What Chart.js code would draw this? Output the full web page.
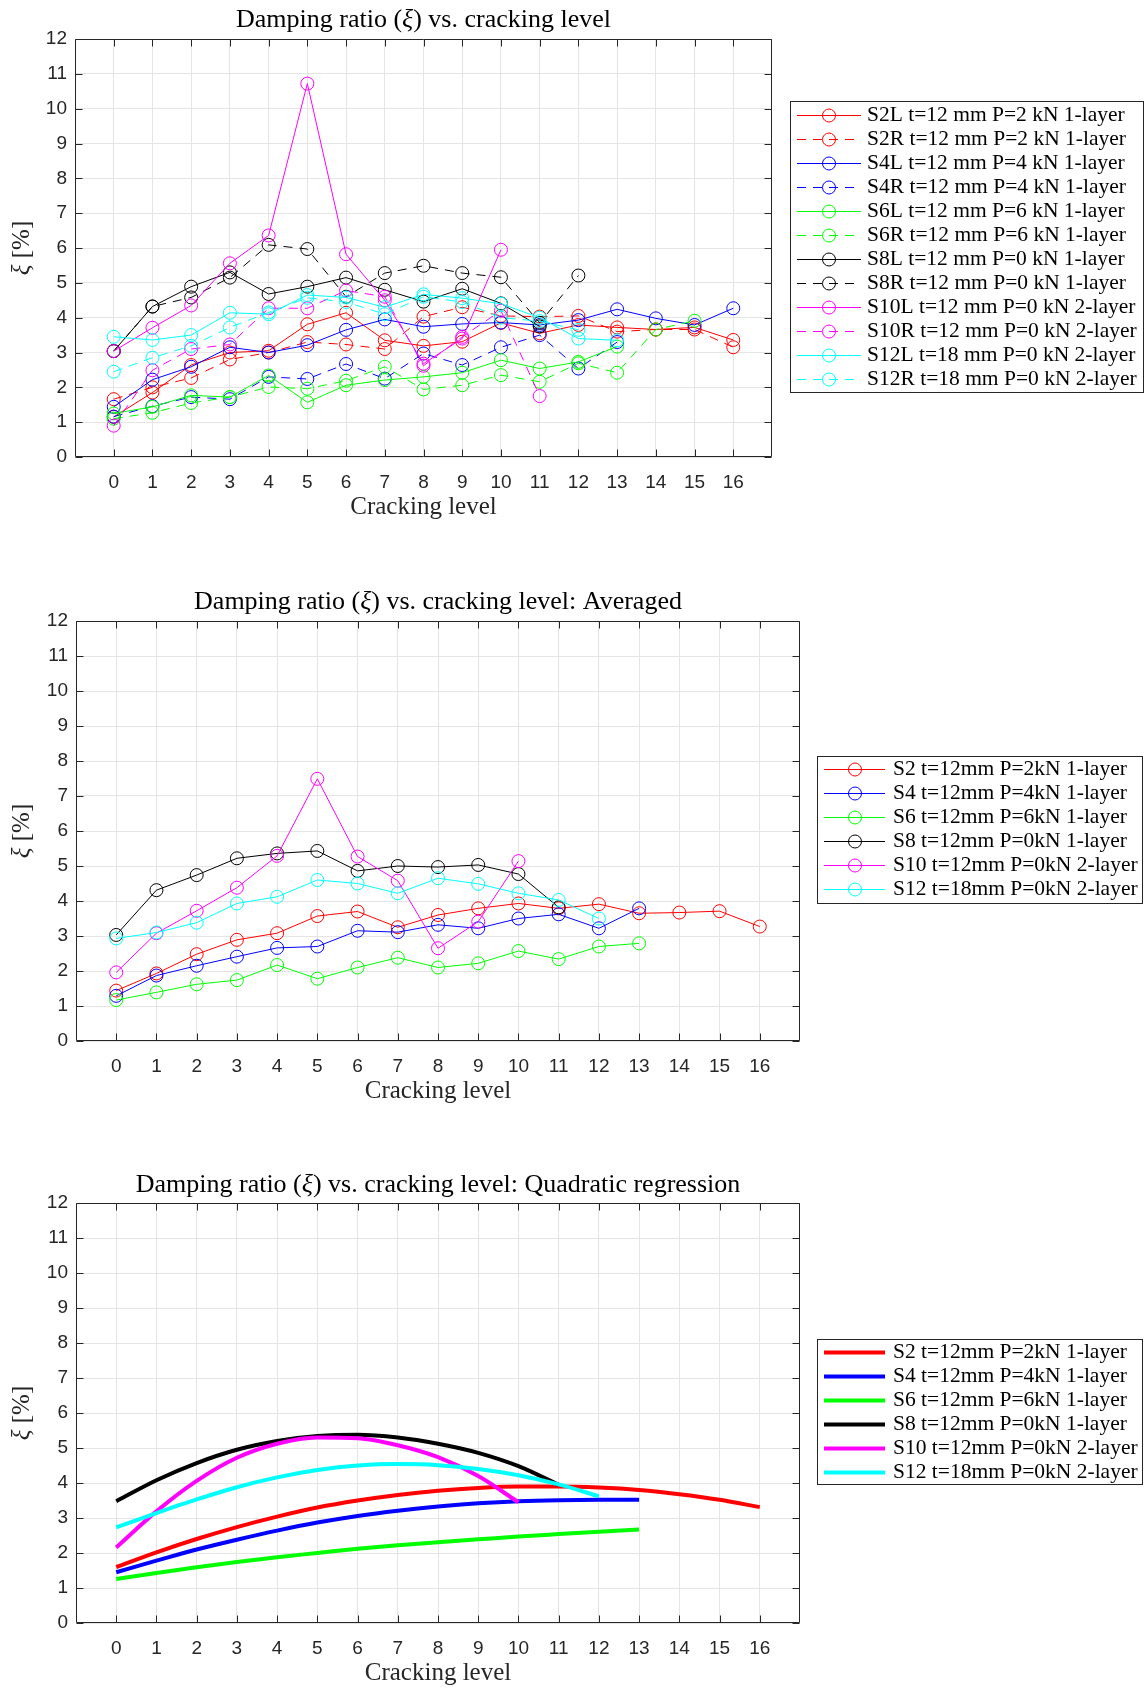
<!DOCTYPE html>
<html>
<head>
<meta charset="utf-8">
<script src="https://cdn.jsdelivr.net/npm/chart.js@4.4.1/dist/chart.umd.min.js"></script>
<style>
html,body{margin:0;padding:0;background:#fff;overflow:hidden;width:1145px;height:1688px;}
canvas{position:absolute;left:0;}
</style>
</head>
<body>
<canvas id="c1" width="1145" height="540" style="top:0px;width:1145px;height:540px"></canvas>
<canvas id="c2" width="1145" height="560" style="top:560px;width:1145px;height:560px"></canvas>
<canvas id="c3" width="1145" height="570" style="top:1120px;width:1145px;height:570px"></canvas>
<script>
// ---------- data ----------
const levels = [0,1,2,3,4,5,6,7,8,9,10,11,12,13,14,15,16];
const yTickValues = [0,1,2,3,4,5,6,7,8,9,10,11,12];

// Raw damping ratios (%) per specimen side
const S2L  = [1.15,1.85,2.64,3.0,3.05,3.81,4.14,3.35,3.19,3.31,3.85,3.55,3.79,3.72,3.66,3.72,3.36];
const S2R  = [1.66,2.0,2.27,2.8,3.0,3.3,3.23,3.1,4.03,4.3,4.05,4.03,4.05,3.6,3.66,3.66,3.15];
const S4L  = [1.44,2.22,2.59,3.15,3.0,3.21,3.65,3.95,3.74,3.82,3.86,3.79,3.93,4.24,3.98,3.79,4.27];
const S4R  = [1.16,1.46,1.72,1.66,2.3,2.24,2.67,2.25,2.97,2.64,3.15,3.5,2.54,3.3];
const S6L  = [1.25,1.44,1.77,1.72,2.34,1.57,2.06,2.21,2.3,2.42,2.78,2.54,2.73,3.17];
const S6R  = [1.1,1.27,1.55,1.72,2.01,1.96,2.19,2.59,1.94,2.06,2.35,2.16,2.69,2.42,3.66,3.91];
const S8L  = [3.04,4.32,4.89,5.3,4.68,4.89,5.15,4.8,4.46,4.83,4.41,3.75];
const S8R  = [3.04,4.32,4.58,5.15,6.09,5.97,4.6,5.28,5.49,5.28,5.16,3.85,5.21];
const S10L = [3.04,3.71,4.35,5.56,6.36,10.72,5.82,4.5,2.68,3.4,5.95];
const S10R = [0.9,2.49,3.1,3.23,4.27,4.27,4.78,4.6,2.62,3.45,4.2,1.75];
const S12L = [3.45,3.36,3.5,4.14,4.1,4.65,4.58,4.3,4.67,4.56,4.4,4.0,3.4,3.35];
const S12R = [2.45,2.85,3.19,3.72,4.15,4.57,4.45,4.1,4.6,4.45,4.0,3.9,3.65];

// Averaged
const S2avg  = [1.44,1.93,2.48,2.89,3.08,3.57,3.7,3.25,3.6,3.79,3.93,3.79,3.91,3.65,3.67,3.71,3.27];
const S4avg  = [1.29,1.87,2.15,2.41,2.66,2.7,3.15,3.11,3.32,3.22,3.5,3.62,3.22,3.79];
const S6avg  = [1.17,1.39,1.62,1.74,2.17,1.78,2.1,2.38,2.1,2.22,2.57,2.34,2.7,2.79];
const S8avg  = [3.03,4.31,4.74,5.22,5.36,5.43,4.86,5.0,4.97,5.03,4.77,3.82];
const S10avg = [1.96,3.08,3.72,4.38,5.29,7.49,5.27,4.58,2.65,3.41,5.14];
const S12avg = [2.93,3.1,3.38,3.93,4.12,4.6,4.5,4.22,4.65,4.49,4.22,4.03,3.5];

// Quadratic regression curves (read at each level)
const S2fit  = [1.6,2.02,2.4,2.74,3.04,3.3,3.5,3.66,3.78,3.86,3.9,3.9,3.87,3.8,3.68,3.52,3.31];
const S4fit  = [1.45,1.78,2.1,2.38,2.64,2.87,3.06,3.21,3.33,3.42,3.48,3.51,3.52,3.52];
const S6fit  = [1.26,1.43,1.59,1.74,1.88,2.0,2.12,2.22,2.31,2.39,2.47,2.54,2.61,2.67];
const S8fit  = [3.48,4.08,4.57,4.95,5.2,5.34,5.38,5.3,5.12,4.86,4.48,3.95];
const S10fit = [2.16,3.19,4.06,4.72,5.12,5.3,5.28,5.08,4.74,4.2,3.45];
const S12fit = [2.73,3.14,3.53,3.88,4.16,4.37,4.5,4.54,4.51,4.4,4.22,3.96,3.62];

const rawLabels = ['S2L t=12 mm P=2 kN 1-layer','S2R t=12 mm P=2 kN 1-layer',
  'S4L t=12 mm P=4 kN 1-layer','S4R t=12 mm P=4 kN 1-layer',
  'S6L t=12 mm P=6 kN 1-layer','S6R t=12 mm P=6 kN 1-layer',
  'S8L t=12 mm P=0 kN 1-layer','S8R t=12 mm P=0 kN 1-layer',
  'S10L t=12 mm P=0 kN 2-layer','S10R t=12 mm P=0 kN 2-layer',
  'S12L t=18 mm P=0 kN 2-layer','S12R t=18 mm P=0 kN 2-layer'];
const avgLabels = ['S2 t=12mm P=2kN 1-layer','S4 t=12mm P=4kN 1-layer','S6 t=12mm P=6kN 1-layer',
  'S8 t=12mm P=0kN 1-layer','S10 t=12mm P=0kN 2-layer','S12 t=18mm P=0kN 2-layer'];

// ---------- styling ----------
const COLORS = ['#ff0000','#0000ff','#00ff00','#000000','#ff00ff','#00ffff'];
const AX = '#262626';
const GRID = '#e5e5e5';
const DASH = [9,7];
const SERIF = '"Liberation Serif", "Times New Roman", serif';
const SANS = '"Liberation Sans", Arial, sans-serif';

function drawParts(ctx, parts, cx, cy, size, color) {
  ctx.fillStyle = color;
  ctx.textBaseline = 'middle';
  ctx.textAlign = 'left';
  let total = 0;
  const ws = parts.map(p => { ctx.font = (p.i ? 'italic ' : '') + size + 'px ' + SERIF; const w = ctx.measureText(p.t).width; total += w; return w; });
  let x = cx - total / 2;
  parts.forEach((p, k) => { ctx.font = (p.i ? 'italic ' : '') + size + 'px ' + SERIF; ctx.fillText(p.t, x, cy); x += ws[k]; });
}

function decoPlugin(cfg) {
  return {
    id: 'deco' + cfg.key,
    afterDraw(chart) {
      const ctx = chart.ctx, ca = chart.chartArea, xs = chart.scales.x, ys = chart.scales.y;
      ctx.save();
      const L = Math.round(ca.left) + 0.5, R = Math.round(ca.right) - 0.5;
      const T = Math.round(ca.top) + 0.5, B = Math.round(ca.bottom) - 0.5;
      ctx.strokeStyle = AX; ctx.lineWidth = 1; ctx.setLineDash([]);
      ctx.beginPath(); ctx.rect(L, T, R - L, B - T); ctx.stroke();
      ctx.beginPath();
      levels.forEach(v => { const px = Math.round(xs.getPixelForValue(v)) + 0.5;
        ctx.moveTo(px, B); ctx.lineTo(px, B - 7); ctx.moveTo(px, T); ctx.lineTo(px, T + 7); });
      yTickValues.forEach(v => { const py = Math.round(ys.getPixelForValue(v)) + 0.5;
        ctx.moveTo(L, py); ctx.lineTo(L + 7, py); ctx.moveTo(R, py); ctx.lineTo(R - 7, py); });
      ctx.stroke();
      // title
      drawParts(ctx, cfg.title, (ca.left + ca.right) / 2, cfg.titleY, 26, '#000');
      // y label
      ctx.save();
      ctx.translate(cfg.ylabelX, (ca.top + ca.bottom) / 2);
      ctx.rotate(-Math.PI / 2);
      drawParts(ctx, [{t:'ξ', i:true}, {t:' [%]'}], 0, 0, 25, AX);
      ctx.restore();
      // legend
      const lg = cfg.legend;
      ctx.fillStyle = '#fff';
      ctx.fillRect(lg.x0, lg.y0, lg.x1 - lg.x0, lg.y1 - lg.y0);
      ctx.strokeStyle = AX; ctx.lineWidth = 1; ctx.setLineDash([]);
      ctx.strokeRect(lg.x0 + 0.5, lg.y0 + 0.5, lg.x1 - lg.x0 - 1, lg.y1 - lg.y0 - 1);
      chart.data.datasets.forEach((ds, i) => {
        const y = Math.round(lg.rowY0 + i * lg.dy) + 0.5;
        ctx.strokeStyle = ds.borderColor;
        ctx.lineWidth = ds.borderWidth;
        ctx.setLineDash(ds.borderDash || []);
        ctx.beginPath(); ctx.moveTo(lg.lx0, y); ctx.lineTo(lg.lx1, y); ctx.stroke();
        ctx.setLineDash([]);
        if (ds.pointRadius > 0) {
          ctx.lineWidth = 1;
          ctx.beginPath(); ctx.arc(lg.mx, y, ds.pointRadius, 0, Math.PI * 2); ctx.stroke();
        }
        ctx.fillStyle = '#000';
        ctx.font = lg.font + 'px ' + SERIF;
        ctx.textBaseline = 'middle'; ctx.textAlign = 'left';
        ctx.fillText(ds.label, lg.tx, y);
      });
      ctx.restore();
    }
  };
}

function makeChart(id, cfg) {
  return new Chart(document.getElementById(id), {
    type: 'line',
    data: { labels: levels, datasets: cfg.datasets },
    options: {
      responsive: false, animation: false, devicePixelRatio: 1,
      layout: { padding: cfg.padding },
      plugins: { legend: { display: false }, title: { display: false }, tooltip: { enabled: false } },
      scales: {
        x: {
          type: 'linear', min: -1, max: 17,
          afterBuildTicks: s => { s.ticks = levels.map(v => ({ value: v })); },
          afterFit: s => { s.height = 67; },
          grid: { color: GRID, drawTicks: false, lineWidth: 1 },
          border: { display: false },
          ticks: { font: { family: SANS, size: 19 }, color: AX, padding: 14, autoSkip: false, maxRotation: 0, callback: v => String(v) },
          title: { display: true, text: 'Cracking level', font: { family: SERIF, size: 25 }, color: AX, padding: { top: 0, bottom: 2 } }
        },
        y: {
          type: 'linear', min: 0, max: 12,
          afterBuildTicks: s => { s.ticks = yTickValues.map(v => ({ value: v })); },
          afterFit: s => { s.width = cfg.yw; },
          grid: { color: GRID, drawTicks: false, lineWidth: 1 },
          border: { display: false },
          ticks: { font: { family: SANS, size: 19 }, color: AX, padding: 8, callback: v => String(v) }
        }
      }
    },
    plugins: [decoPlugin(cfg)]
  });
}

function markerSet(label, data, color, dashed, i) {
  return { label, data, borderColor: color, backgroundColor: 'rgba(0,0,0,0)', borderWidth: 1,
    borderDash: dashed ? DASH : [], pointStyle: 'circle', pointRadius: 6.5, pointHoverRadius: 6.5,
    pointBorderWidth: 1, pointBorderColor: color, pointBackgroundColor: 'rgba(0,0,0,0)',
    fill: false, tension: 0, order: -i };
}

// ---------- chart 1: raw ----------
const rawSeries = [S2L,S2R,S4L,S4R,S6L,S6R,S8L,S8R,S10L,S10R,S12L,S12R];
makeChart('c1', {
  key: 1,
  datasets: rawSeries.map((d, i) => markerSet(rawLabels[i], d, COLORS[Math.floor(i / 2)], i % 2 === 1, i)),
  padding: { top: 39, left: 0, right: 373, bottom: 16 },
  yw: 75,
  title: [{t:'Damping ratio ('}, {t:'ξ', i:true}, {t:') vs. cracking level'}],
  titleY: 20, ylabelX: 22,
  legend: { x0: 790, x1: 1144, y0: 101, y1: 393, rowY0: 115, dy: 24, lx0: 797, lx1: 861, mx: 829, tx: 867, font: 21.5 }
});

// ---------- chart 2: averaged ----------
const avgSeries = [S2avg,S4avg,S6avg,S8avg,S10avg,S12avg];
makeChart('c2', {
  key: 2,
  datasets: avgSeries.map((d, i) => markerSet(avgLabels[i], d, COLORS[i], false, i)),
  padding: { top: 61, left: 0, right: 345, bottom: 12 },
  yw: 76,
  title: [{t:'Damping ratio ('}, {t:'ξ', i:true}, {t:') vs. cracking level: Averaged'}],
  titleY: 42, ylabelX: 22,
  legend: { x0: 817, x1: 1143, y0: 196, y1: 344, rowY0: 209, dy: 24, lx0: 824, lx1: 885, mx: 855, tx: 893, font: 21.5 }
});

// ---------- chart 3: quadratic regression ----------
const fitSeries = [S2fit,S4fit,S6fit,S8fit,S10fit,S12fit];
makeChart('c3', {
  key: 3,
  datasets: fitSeries.map((d, i) => ({ label: avgLabels[i], data: d, borderColor: COLORS[i], backgroundColor: 'rgba(0,0,0,0)',
    borderWidth: 4, pointRadius: 0, pointHoverRadius: 0, fill: false, cubicInterpolationMode: 'monotone', borderDash: [], order: -i })),
  padding: { top: 83, left: 0, right: 345, bottom: 0 },
  yw: 76,
  title: [{t:'Damping ratio ('}, {t:'ξ', i:true}, {t:') vs. cracking level: Quadratic regression'}],
  titleY: 65, ylabelX: 22,
  legend: { x0: 817, x1: 1143, y0: 219, y1: 365, rowY0: 231.5, dy: 24, lx0: 824, lx1: 885, mx: 855, tx: 893, font: 21.5 }
});
</script>
</body>
</html>
